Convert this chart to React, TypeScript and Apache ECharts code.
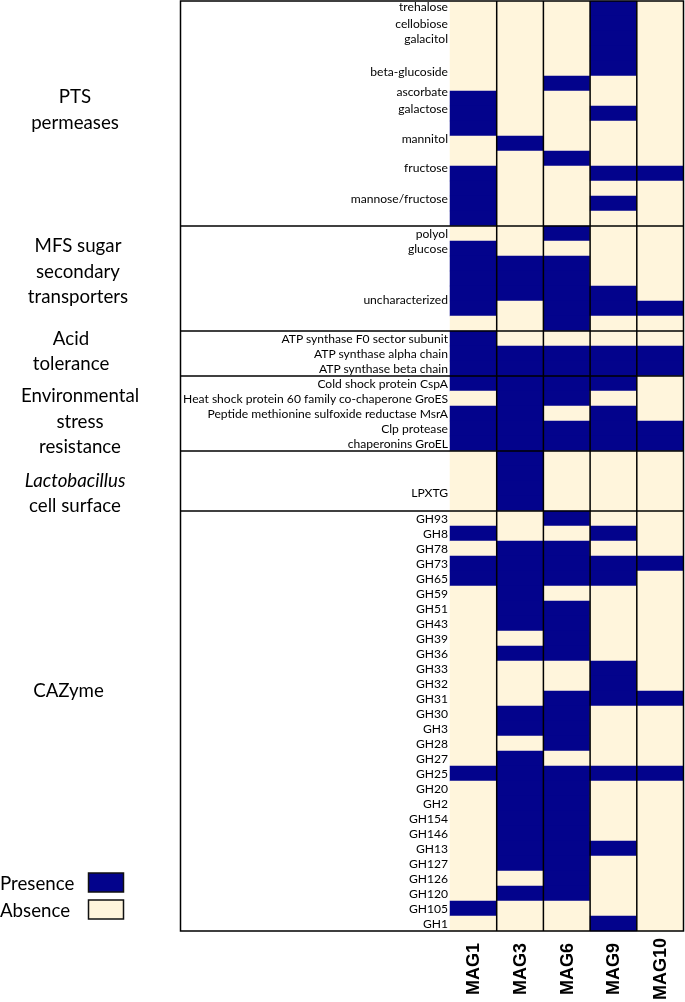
import React, { useEffect, useRef } from 'react';
import * as echarts from 'echarts';

// ---------- data ----------
const mags = ['MAG1', 'MAG3', 'MAG6', 'MAG9', 'MAG10'];

const groupNames = [
  'PTS\npermeases',
  'MFS sugar\nsecondary\ntransporters',
  'Acid\ntolerance',
  'Environmental\nstress\nresistance',
  '{it|Lactobacillus}\ncell surface',
  'CAZyme',
];

const ptsRows = ['trehalose', 'cellobiose', 'galacitol', '', 'beta-glucoside', 'ascorbate', '', 'galactose', '', 'mannitol', '', 'fructose', '', 'mannose/fructose', ''];
// one list per MAG (MAG1, MAG3, MAG6, MAG9, MAG10); 1 = presence, 0 = absence
const ptsPresence = [
  [0, 0, 0, 0, 0, 0, 1, 1, 1, 0, 0, 1, 1, 1, 1],
  [0, 0, 0, 0, 0, 0, 0, 0, 0, 1, 0, 0, 0, 0, 0],
  [0, 0, 0, 0, 0, 1, 0, 0, 0, 0, 1, 0, 0, 0, 0],
  [1, 1, 1, 1, 1, 0, 0, 1, 0, 0, 0, 1, 0, 1, 0],
  [0, 0, 0, 0, 0, 0, 0, 0, 0, 0, 0, 1, 0, 0, 0],
];

const mfsRows = ['polyol', 'glucose', '', '', 'uncharacterized', '', ''];
const mfsPresence = [
  [0, 1, 1, 1, 1, 1, 0],
  [0, 0, 1, 1, 1, 0, 0],
  [1, 0, 1, 1, 1, 1, 1],
  [0, 0, 0, 0, 1, 1, 0],
  [0, 0, 0, 0, 0, 1, 0],
];

const acidRows = ['ATP synthase F0 sector subunit', 'ATP synthase alpha chain', 'ATP synthase beta chain'];
const acidPresence = [
  [1, 1, 1],
  [0, 1, 1],
  [0, 1, 1],
  [0, 1, 1],
  [0, 1, 1],
];

const envRows = ['Cold shock protein CspA', 'Heat shock protein 60 family co-chaperone GroES', 'Peptide methionine sulfoxide reductase MsrA', 'Clp protease', 'chaperonins GroEL'];
const envPresence = [
  [1, 0, 1, 1, 1],
  [1, 1, 1, 1, 1],
  [1, 1, 0, 1, 1],
  [1, 0, 1, 1, 1],
  [0, 0, 0, 1, 1],
];

const lactoRows = ['', '', 'LPXTG', ''];
const lactoPresence = [
  [0, 0, 0, 0],
  [1, 1, 1, 1],
  [0, 0, 0, 0],
  [0, 0, 0, 0],
  [0, 0, 0, 0],
];

const cazyRows = ['GH93', 'GH8', 'GH78', 'GH73', 'GH65', 'GH59', 'GH51', 'GH43', 'GH39', 'GH36', 'GH33', 'GH32', 'GH31', 'GH30', 'GH3', 'GH28', 'GH27', 'GH25', 'GH20', 'GH2', 'GH154', 'GH146', 'GH13', 'GH127', 'GH126', 'GH120', 'GH105', 'GH1'];
const cazyPresence = [
  [0, 1, 0, 1, 1, 0, 0, 0, 0, 0, 0, 0, 0, 0, 0, 0, 0, 1, 0, 0, 0, 0, 0, 0, 0, 0, 1, 0],
  [0, 0, 1, 1, 1, 1, 1, 1, 0, 1, 0, 0, 0, 1, 1, 0, 1, 1, 1, 1, 1, 1, 1, 1, 0, 1, 0, 0],
  [1, 0, 1, 1, 1, 0, 1, 1, 1, 1, 0, 0, 1, 1, 1, 1, 0, 1, 1, 1, 1, 1, 1, 1, 1, 1, 0, 0],
  [0, 1, 0, 1, 1, 0, 0, 0, 0, 0, 1, 1, 1, 0, 0, 0, 0, 1, 0, 0, 0, 0, 1, 0, 0, 0, 0, 1],
  [0, 0, 0, 1, 0, 0, 0, 0, 0, 0, 0, 0, 1, 0, 0, 0, 0, 1, 0, 0, 0, 0, 0, 0, 0, 0, 0, 0],
];

const legendLabels = ['Presence', 'Absence'];

// ---------- layout / style ----------
const BLUE = '#03038C';
const CREAM = '#FFF5DC';
const FONT = 'Lato';
const ROW_FONT = 12.1;
const GROUP_FONT = 18.7;
// vertical nudges (px) of some row labels
const labelNudge: Record<string, number> = {
  trehalose: -2,
  'beta-glucoside': 2.5,
  ascorbate: 7.5,
  galactose: -5.5,
  mannitol: -5.5,
  fructose: -6.5,
  'mannose/fructose': -5.5,
  uncharacterized: 5.5,
  LPXTG: 3.5,
};
// group label anchors, in row units from the top, and x centres
const groupLabelRow = [7.19, 17.99, 23.29, 27.99, 32.77, 45.93];
const groupLabelX = [75, 78, 71, 80, 75, 68.5];

export default function App() {
  const ref = useRef<HTMLDivElement>(null);

  useEffect(() => {
    const chart = echarts.init(ref.current!, null, { renderer: 'svg' });

    const sectionRows = [ptsRows, mfsRows, acidRows, envRows, lactoRows, cazyRows];
    const sectionPresence = [ptsPresence, mfsPresence, acidPresence, envPresence, lactoPresence, cazyPresence];
    const allLabels: string[] = ([] as string[]).concat(...sectionRows);
    const rowKeys = allLabels.map((_, i) => 'r' + i);
    const presence = mags.map((_, m) => ([] as number[]).concat(...sectionPresence.map((s) => s[m])));

    const data: number[][] = [];
    mags.forEach((_, m) => {
      presence[m].forEach((v, r) => data.push([m, r, v]));
    });

    const nudgeKeys = Object.keys(labelNudge);
    const rich: Record<string, any> = {};
    nudgeKeys.forEach((k, i) => {
      const n = labelNudge[k];
      rich['n' + i] = {
        fontFamily: FONT,
        fontSize: ROW_FONT,
        color: '#000',
        padding: n > 0 ? [2 * n, 0, 0, 0] : [0, 0, -2 * n, 0],
      };
    });

    chart.setOption({
      animation: false,
      grid: { left: 450, right: 1.5, top: 1, bottom: 71, outerBoundsMode: 'none' },
      xAxis: {
        type: 'category',
        data: mags,
        position: 'bottom',
        axisLine: { show: false },
        axisTick: { show: false },
        splitLine: { show: false },
        axisLabel: {
          interval: 0,
          rotate: 90,
          margin: 38,
          align: 'center',
          verticalAlign: 'middle',
          fontFamily: 'Liberation Sans',
          fontWeight: 'bold',
          fontSize: 18,
          color: '#000',
        },
      },
      yAxis: {
        type: 'category',
        inverse: true,
        data: rowKeys,
        axisLine: { show: false },
        axisTick: { show: false },
        splitLine: { show: false },
        axisLabel: {
          interval: 0,
          margin: 2,
          fontFamily: FONT,
          fontSize: ROW_FONT,
          color: '#000',
          formatter: (value: string) => {
            const lab = allLabels[parseInt(String(value).slice(1), 10)] || '';
            const k = nudgeKeys.indexOf(lab);
            return k >= 0 ? `{n${k}|${lab}}` : lab;
          },
          rich,
        },
      },
      visualMap: {
        type: 'piecewise',
        show: false,
        dimension: 2,
        seriesIndex: 0,
        pieces: [
          { value: 1, color: BLUE },
          { value: 0, color: CREAM },
        ],
      },
      series: [
        {
          type: 'heatmap',
          data,
          itemStyle: { borderWidth: 0 },
          emphasis: { disabled: true },
        },
      ],
    });

    // frame, separators, group labels and legend, positioned from the axes
    const py = (i: number) => chart.convertToPixel({ yAxisIndex: 0 }, i) as number;
    const px = (i: number) => chart.convertToPixel({ xAxisIndex: 0 }, i) as number;
    const rowH = py(1) - py(0);
    const colW = px(1) - px(0);
    const top = py(0) - rowH / 2;
    const bottom = py(allLabels.length - 1) + rowH / 2;
    const gridLeft = px(0) - colW / 2;
    const right = px(mags.length - 1) + colW / 2;
    const boxLeft = 180.5;
    const line = { stroke: '#000', lineWidth: 1.5 };

    const graphics: any[] = [];
    // outer box
    graphics.push({
      type: 'rect',
      z: 100,
      shape: { x: boxLeft, y: top, width: right - boxLeft, height: bottom - top },
      style: { fill: 'none', ...line },
    });
    // section separators
    let acc = 0;
    sectionRows.slice(0, -1).forEach((s) => {
      acc += s.length;
      const y = top + acc * rowH;
      graphics.push({ type: 'line', z: 100, shape: { x1: boxLeft, y1: y, x2: right, y2: y }, style: line });
    });
    // column separators
    for (let m = 1; m < mags.length; m++) {
      const x = gridLeft + m * colW;
      graphics.push({ type: 'line', z: 100, shape: { x1: x, y1: top, x2: x, y2: bottom }, style: line });
    }
    // group labels
    groupNames.forEach((g, i) => {
      graphics.push({
        type: 'text',
        x: groupLabelX[i],
        y: top + groupLabelRow[i] * rowH,
        style: {
          text: g,
          fontFamily: FONT,
          fontSize: GROUP_FONT,
          lineHeight: 25.5,
          fill: '#000',
          align: 'center',
          verticalAlign: 'middle',
          rich: {
            it: { fontFamily: FONT, fontSize: GROUP_FONT, fontStyle: 'italic', lineHeight: 25.5, fill: '#000' },
          },
        },
      });
    });
    // legend
    const legendColors = [BLUE, CREAM];
    legendLabels.forEach((t, i) => {
      const cy = 882.5 + i * 27;
      graphics.push({
        type: 'text',
        x: 0,
        y: cy,
        style: { text: t, fontFamily: FONT, fontSize: GROUP_FONT, fill: '#000', align: 'left', verticalAlign: 'middle' },
      });
      graphics.push({
        type: 'rect',
        shape: { x: 88.5, y: cy - 9.5, width: 35, height: 19 },
        style: { fill: legendColors[i], stroke: '#111', lineWidth: 1.5 },
      });
    });

    chart.setOption({ graphic: graphics });

    return () => chart.dispose();
  }, []);

  return <div ref={ref} style={{ position: 'fixed', left: 0, top: 0, width: 685, height: 1002 }} />;
}
